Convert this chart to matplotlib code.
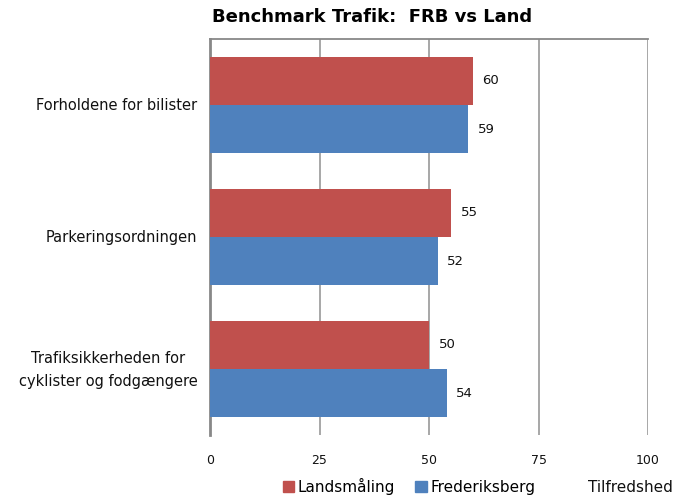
import matplotlib.pyplot as plt
import numpy as np
from matplotlib.patches import Patch

# data
categories = ["Forholdene for bilister", "Parkeringsordningen",
              "Trafiksikkerheden for\ncyklister og fodgængere"]
landsmaaling = [60, 55, 50]
frederiksberg = [59, 52, 54]
xticks = [0, 25, 50, 75, 100]

red = "#C0504D"
blue = "#4F81BD"

plt.rcParams['font.family'] = ['DejaVu Sans']
fig = plt.figure(figsize=(6.85, 4.95), dpi=100)
ax = fig.add_axes([210/685, 1-435/495, 438/685, 396/495])

y = np.arange(len(categories))
h = 0.364
ax.barh(y - h/2, landsmaaling, height=h, color=red, zorder=3)
ax.barh(y + h/2, frederiksberg, height=h, color=blue, zorder=3)

# value labels
for yi, v in zip(y - h/2, landsmaaling):
    ax.text(v + 2.2, yi, str(v), va="center", ha="left", fontsize=9.5, color="#111111")
for yi, v in zip(y + h/2, frederiksberg):
    ax.text(v + 2.2, yi, str(v), va="center", ha="left", fontsize=9.5, color="#111111")

ax.set_xlim(0, 100)
ax.set_ylim(2.5, -0.5)
ax.set_yticks(y)
ax.set_yticklabels([])
# category labels drawn by hand (centered multi-line text)
for yi, cat in zip(y, categories):
    dy = -0.7 if "\n" in cat else 0
    ax.annotate(cat, xy=(0, yi), xycoords=("axes fraction", "data"),
                xytext=(-9, dy), textcoords="offset points",
                ha="right", va="center", multialignment="center",
                fontsize=10.5, color="#111111", linespacing=1.7)
ax.set_xticks(xticks)
ax.set_xticklabels([str(t) for t in xticks], fontsize=9, color="#111111")
ax.tick_params(axis="both", length=0)
ax.tick_params(axis="x", pad=14)

ax.grid(axis="x", color="#A0A0A0", linewidth=1.3, zorder=0)
ax.spines["right"].set_visible(False)
ax.spines["bottom"].set_visible(False)
ax.spines["top"].set_color("#888888")
ax.spines["top"].set_linewidth(1.3)
ax.spines["left"].set_color("#888888")
ax.spines["left"].set_linewidth(2)

fig.text(372/685, 1-17/495, "Benchmark Trafik:  FRB vs Land", ha="center", va="center",
         fontsize=13, fontweight="bold")

handles = [Patch(color=red, label="Landsmåling"), Patch(color=blue, label="Frederiksberg")]
fig.legend(handles=handles, loc="center", bbox_to_anchor=(409/685, 1-486/495), ncol=2,
           frameon=False, fontsize=11, handlelength=0.75, handleheight=0.75,
           handletextpad=0.25, columnspacing=1.3, borderpad=0)
fig.text(630/685, 1-487/495, "Tilfredshed", ha="center", va="center", fontsize=11, color="#111111")

fig.savefig("out.png", dpi=100)
